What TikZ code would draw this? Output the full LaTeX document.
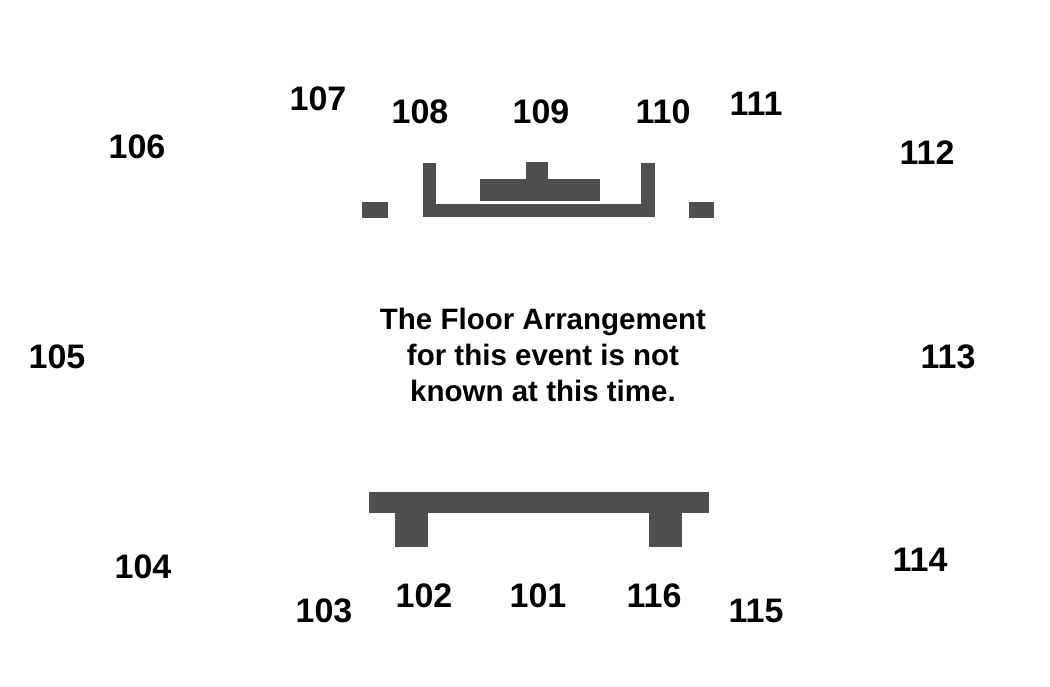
\documentclass[tikz,border=0pt]{standalone}
\usepackage{fontspec}
\setmainfont{Liberation Sans}
\begin{document}
\begin{tikzpicture}[x=1pt,y=-1pt,
  blk/.style={fill=black!69,draw=none},
  num/.style={font=\fontsize{34}{36}\selectfont\bfseries,inner sep=0pt},
  msg/.style={font=\fontsize{29.5}{36}\selectfont\bfseries,align=center,inner sep=0pt}]
\useasboundingbox[fill=white] (0,0) rectangle (1050,686);
\fill[blk] (362,202) rectangle (388,218);
\fill[blk] (689,202) rectangle (714,218);
\fill[blk] (423,163) rectangle (436,217);
\fill[blk] (423,204) rectangle (655,217);
\fill[blk] (641,163) rectangle (655,217);
\fill[blk] (480,179) rectangle (600,201);
\fill[blk] (526,162) rectangle (548,180);
\fill[blk] (369,492) rectangle (709,513);
\fill[blk] (395,512) rectangle (428,547);
\fill[blk] (649,512) rectangle (682,547);
\node[num] (n107) at (318,99) {107};
\node[num] (n108) at (420,112) {108};
\node[num] (n109) at (541,112) {109};
\node[num] (n110) at (663,112) {110};
\node[num] (n111) at (756,104) {111};
\node[num] (n106) at (137,147) {106};
\node[num] (n112) at (927,153) {112};
\node[num] (n105) at (57,357) {105};
\node[num] (n113) at (948,357) {113};
\node[num] (n104) at (143,567) {104};
\node[num] (n114) at (920,560) {114};
\node[num] (n103) at (324,611) {103};
\node[num] (n102) at (424,596) {102};
\node[num] (n101) at (538,596) {101};
\node[num] (n116) at (654,596) {116};
\node[num] (n115) at (756,611) {115};
\node[msg] (msg) at (543,355) {The Floor Arrangement\\for this event is not\\known at this time.};
\end{tikzpicture}
\end{document}
